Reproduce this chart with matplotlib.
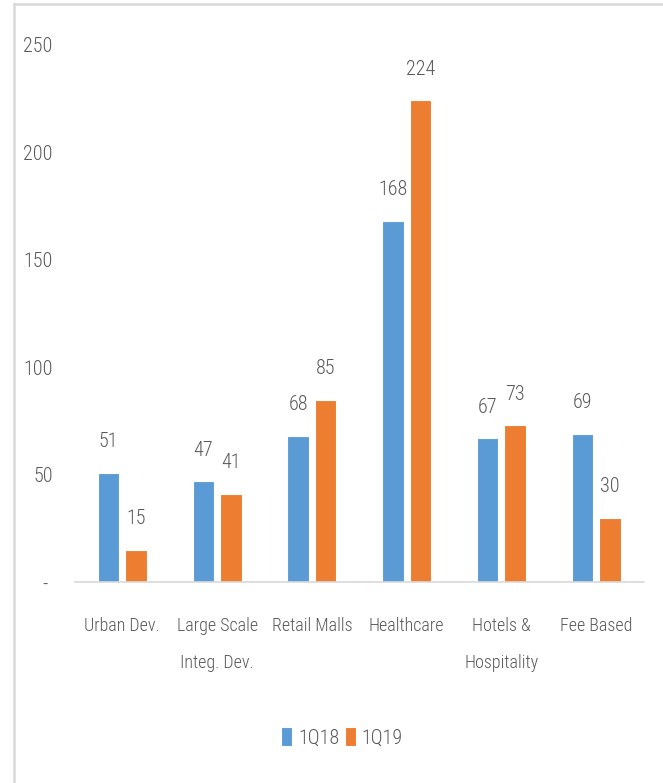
import matplotlib
matplotlib.use("Agg")
from matplotlib import pyplot as plt
from matplotlib import font_manager
from matplotlib.lines import Line2D
import numpy as np

categories = ['Urban Dev.', 'Large Scale\nInteg. Dev.', 'Retail Malls', 'Healthcare',
              'Hotels &\nHospitality', 'Fee Based']
q1_18 = [51, 47, 68, 168, 67, 69]
q1_19 = [15, 41, 85, 224, 73, 30]
series_names = ['1Q18', '1Q19']
y_ticks = [0, 50, 100, 150, 200, 250]
y_tick_labels = ['- ', '50', '100', '150', '200', '250']

# pick a narrow face if one is around
installed = {f.name for f in font_manager.fontManager.ttflist}
family = 'Liberation Sans'
for cand in ['Liberation Sans Narrow', 'Roboto Condensed', 'Open Sans Condensed']:
    if cand in installed:
        family = cand
        break
plt.rcParams['font.family'] = [family, 'DejaVu Sans']
plt.rcParams['font.weight'] = 'light'

text_gray = '#595959'
blue = '#5B9BD5'
orange = '#ED7D31'
fs = 14.5
cat_fs = 13

fig = plt.figure(figsize=(6.63, 7.83), dpi=100)
ax = fig.add_axes([0.1131, 0.2561, 0.8575, 0.6871])

x = np.arange(len(categories))
w = 0.225
off = 0.145
b1 = ax.bar(x - off, q1_18, w, color=blue, edgecolor='white', linewidth=0.8, label=series_names[0])
b2 = ax.bar(x + off, q1_19, w, color=orange, edgecolor='white', linewidth=0.8, label=series_names[1])

for bars, vals in [(b1, q1_18), (b2, q1_19)]:
    for rect, v in zip(bars, vals):
        ax.annotate(str(v), (rect.get_x() + rect.get_width() / 2, v),
                    xytext=(0, 22.5), textcoords='offset points',
                    ha='center', va='center', fontsize=fs, color=text_gray)

ax.set_xlim(-0.5, len(categories) - 0.5)
ax.set_ylim(0, 250)
ax.set_yticks(y_ticks)
ax.set_yticklabels(y_tick_labels)
ax.set_xticks(x)
ax.set_xticklabels(categories, linespacing=2.35)
ax.tick_params(axis='y', length=0, pad=16, labelsize=fs, labelcolor=text_gray)
ax.tick_params(axis='x', length=0, pad=25, labelsize=cat_fs, labelcolor=text_gray)

for side in ['left', 'right', 'top']:
    ax.spines[side].set_visible(False)
ax.spines['bottom'].set_color('#D9D9D9')
ax.spines['bottom'].set_linewidth(1.2)

fig.legend(loc='center', bbox_to_anchor=(342 / 663, 1 - 737 / 783), ncol=2,
           frameon=False, fontsize=fs, labelcolor=text_gray,
           handlelength=0.55, handleheight=1.1, handletextpad=0.3, columnspacing=0.25)

# outer frame, top and left edges only
fig.add_artist(Line2D([13.5 / 663, 1], [1 - 3.5 / 783] * 2, color='#D9D9D9', lw=1.8,
                      transform=fig.transFigure))
fig.add_artist(Line2D([13.5 / 663] * 2, [0, 1 - 3.5 / 783], color='#D9D9D9', lw=1.8,
                      transform=fig.transFigure))

fig.savefig('out.png', dpi=100)
